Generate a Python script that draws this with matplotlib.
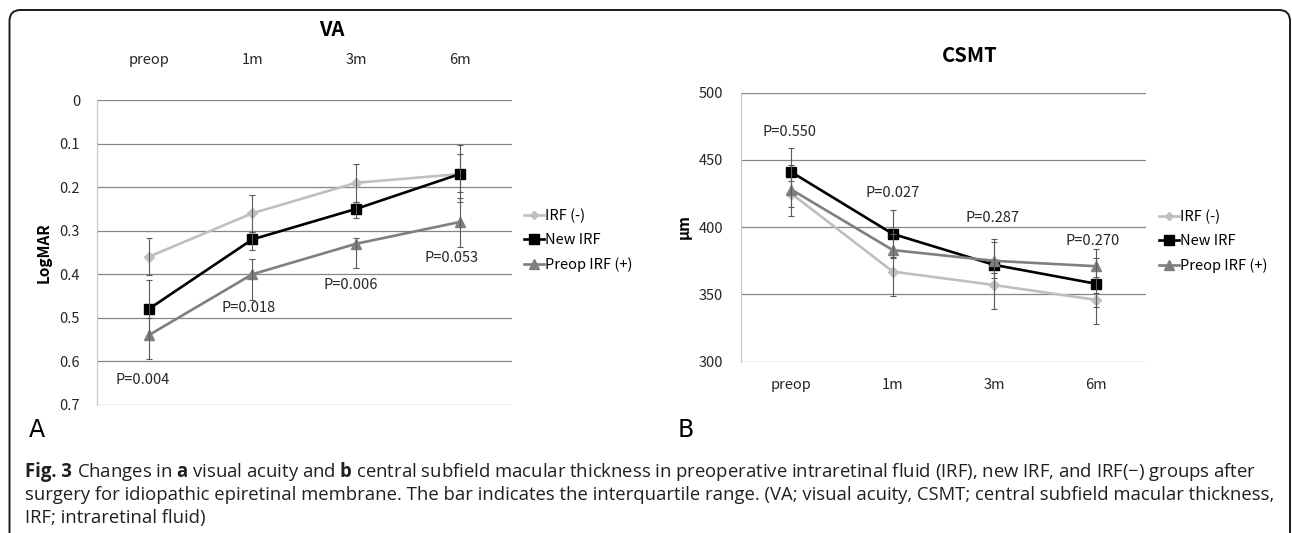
import numpy as np
import matplotlib
matplotlib.use('Agg')
import matplotlib.pyplot as plt
from matplotlib.patches import FancyBboxPatch
from matplotlib.transforms import IdentityTransform

W, H, DPI = 1292, 533, 100

CHART_FONT = ['Noto Sans CJK KR', 'DejaVu Sans']
CAPTION_FONT = 'Open Sans'

# ---- data ----
timepoints = ['preop', '1m', '3m', '6m']
series_names = ['IRF (-)', 'New IRF', 'Preop IRF (+)']

# VA (logMAR), median values
va_irf_neg = [0.36, 0.26, 0.19, 0.17]
va_new_irf = [0.48, 0.32, 0.25, 0.17]
va_preop_irf = [0.54, 0.40, 0.33, 0.28]
# interquartile range: lower / upper
va_irf_neg_lo = [0.316, 0.218, 0.146, 0.125]
va_irf_neg_hi = [0.402, 0.303, 0.234, 0.211]
va_new_irf_lo = [0.413, 0.303, 0.234, 0.104]
va_new_irf_hi = [0.550, 0.345, 0.270, 0.234]
va_preop_irf_lo = [0.500, 0.364, 0.316, 0.224]
va_preop_irf_hi = [0.595, 0.458, 0.385, 0.337]
va_pvalues = ['P=0.004', 'P=0.018', 'P=0.006', 'P=0.053']
va_ticks = [0, 0.1, 0.2, 0.3, 0.4, 0.5, 0.6, 0.7]

# CSMT (um)
csmt_irf_neg = [425, 367, 357, 346]
csmt_new_irf = [441, 395, 372, 358]
csmt_preop_irf = [428, 383, 375, 371]
csmt_irf_neg_lo = [415, 349, 339, 328]
csmt_irf_neg_hi = [434, 379, 366, 351]
csmt_new_irf_lo = [426, 378, 362, 341]
csmt_new_irf_hi = [459, 413, 389, 377]
csmt_preop_irf_lo = [408, 377, 366, 363]
csmt_preop_irf_hi = [446, 395, 391, 384]
csmt_pvalues = ['P=0.550', 'P=0.027', 'P=0.287', 'P=0.270']
csmt_ticks = [300, 350, 400, 450, 500]

caption_head = 'Fig. 3'
caption_lines = [
    r'Changes in $\mathbf{a}$ visual acuity and $\mathbf{b}$ central subfield '
    r'macular thickness in preoperative intraretinal fluid (IRF), new IRF, and IRF(−) groups after',
    'surgery for idiopathic epiretinal membrane. The bar indicates the interquartile range. '
    '(VA; visual acuity, CSMT; central subfield macular thickness,',
    'IRF; intraretinal fluid)',
]

# ---- style ----
COLORS = ['#BFBFBF', '#000000', '#7F7F7F']
MARKERS = ['D', 's', '^']
MSIZES = [5.0, 7.5, 7.5]
ERR_COLOR = '#5A5A5A'
GRID_COLOR = '#868686'
FS = 10.5

plt.rcParams['font.family'] = CHART_FONT
plt.rcParams['mathtext.fontset'] = 'custom'
plt.rcParams['mathtext.rm'] = CAPTION_FONT
plt.rcParams['mathtext.bf'] = CAPTION_FONT + ':bold'


def px_axes(fig, x0, y0, x1, y1):
    return fig.add_axes([x0 / W, 1 - y1 / H, (x1 - x0) / W, (y1 - y0) / H])


def fig_text(fig, x, y, s, **kw):
    return fig.text(x / W, 1 - y / H, s, **kw)


def draw_series(ax, values, lows, highs):
    x = np.arange(len(timepoints))
    for i, (vals, lo, hi) in enumerate(zip(values, lows, highs)):
        vals = np.array(vals)
        ax.plot(x, vals, color=COLORS[i], marker=MARKERS[i], ms=MSIZES[i],
                lw=1.9, label=series_names[i], zorder=3 + i)
        yerr = [vals - np.array(lo), np.array(hi) - vals]
        ax.errorbar(x, vals, yerr=yerr, fmt='none', ecolor=ERR_COLOR,
                    elinewidth=0.8, capsize=2.2, capthick=0.8, zorder=3 + i)


def style_axes(ax, ticks):
    ax.set_xlim(-0.5, len(timepoints) - 0.5)
    ax.set_xticks(np.arange(len(timepoints)))
    ax.set_xticklabels(timepoints)
    ax.set_yticks(ticks)
    ax.set_yticklabels(['%g' % t for t in ticks])
    ax.yaxis.grid(True, color=GRID_COLOR, lw=0.9)
    ax.set_axisbelow(True)
    for s in ['top', 'right', 'bottom']:
        ax.spines[s].set_visible(False)
    ax.spines['left'].set_color('#C8C8C8')
    ax.spines['left'].set_linewidth(0.9)
    ax.tick_params(length=0, labelsize=FS, colors='#262626')


def add_legend(ax, x, y):
    ax.legend(loc='center left', bbox_to_anchor=(x / W, 1 - y / H),
              bbox_transform=ax.figure.transFigure, frameon=False, fontsize=FS,
              handlelength=1.4, handletextpad=0.05, labelspacing=0.7,
              borderpad=0, borderaxespad=0, markerscale=0.9)


fig = plt.figure(figsize=(W / DPI, H / DPI), dpi=DPI)

# ---- panel A: VA ----
ax1 = px_axes(fig, 96.7, 100, 511.6, 405)
draw_series(ax1, [va_irf_neg, va_new_irf, va_preop_irf],
            [va_irf_neg_lo, va_new_irf_lo, va_preop_irf_lo],
            [va_irf_neg_hi, va_new_irf_hi, va_preop_irf_hi])
style_axes(ax1, va_ticks)
ax1.set_ylim(0.7, 0)
ax1.xaxis.tick_top()
ax1.tick_params(axis='x', pad=24)
ax1.tick_params(axis='y', pad=12)
for xi, (txt, yv) in enumerate(zip(va_pvalues, [0.643, 0.477, 0.425, 0.363])):
    ax1.text(xi + [-0.06, -0.04, -0.05, -0.08][xi], yv, txt, ha='center', va='center',
             fontsize=FS, color='#262626', zorder=10)
add_legend(ax1, 524, 240)
fig_text(fig, 332, 30, 'VA', fontsize=14.5, fontweight='bold', ha='center', va='center')
fig_text(fig, 43.6, 253, 'LogMAR', fontsize=11, fontweight='bold', rotation=90,
         ha='center', va='center')
fig_text(fig, 37, 430, 'A', fontsize=17, ha='center', va='center', family='DejaVu Sans')

# ---- panel B: CSMT ----
ax2 = px_axes(fig, 740.6, 92.7, 1146.4, 361.7)
draw_series(ax2, [csmt_irf_neg, csmt_new_irf, csmt_preop_irf],
            [csmt_irf_neg_lo, csmt_new_irf_lo, csmt_preop_irf_lo],
            [csmt_irf_neg_hi, csmt_new_irf_hi, csmt_preop_irf_hi])
style_axes(ax2, csmt_ticks)
ax2.set_ylim(300, 500)
ax2.tick_params(axis='x', pad=12)
ax2.tick_params(axis='y', pad=12.5)
for xi, (txt, yv) in enumerate(zip(csmt_pvalues, [471, 425.7, 406.6, 390])):
    ax2.text(xi + [-0.02, 0.0, -0.02, -0.03][xi], yv, txt, ha='center', va='center',
             fontsize=FS, color='#262626', zorder=10)
add_legend(ax2, 1159, 241)
fig_text(fig, 969.7, 55, 'CSMT', fontsize=14.5, fontweight='bold', ha='center', va='center')
fig_text(fig, 683.7, 227, 'μm', fontsize=11, fontweight='bold', rotation=90,
         ha='center', va='center')
fig_text(fig, 685.7, 430, 'B', fontsize=17, ha='center', va='center', family='DejaVu Sans')

# ---- outer rounded frame (runs off the bottom edge) ----
frame = FancyBboxPatch((9.5, -30), 1280.5, 523 + 30,
                       boxstyle='round,pad=0,rounding_size=11',
                       transform=IdentityTransform(), fill=False,
                       ec='#1A1A1A', lw=1.4)
fig.add_artist(frame)

# ---- caption ----
renderer = fig.canvas.get_renderer()
cap_x, cap_right = 25, 1262
cap_ys = [471.7, 495, 518]


def caption_width(size):
    head = fig_text(fig, cap_x, cap_ys[0], caption_head, fontsize=size,
                    family=CAPTION_FONT, fontweight='bold', va='center')
    body = fig_text(fig, cap_x, cap_ys[0], caption_lines[0], fontsize=size,
                    family=CAPTION_FONT, va='center')
    wh = head.get_window_extent(renderer).width
    wb = body.get_window_extent(renderer).width
    head.remove()
    body.remove()
    return wh, wb


size = 11.5
wh, wb = caption_width(size)
space = 0.26 * size * DPI / 72
size = size * (cap_right - cap_x) / (wh + space + wb)
wh, wb = caption_width(size)
space = 0.26 * size * DPI / 72

fig_text(fig, cap_x, cap_ys[0], caption_head, fontsize=size, family=CAPTION_FONT,
         fontweight='bold', va='center', ha='left', color='#231F20')
fig_text(fig, cap_x + wh + space, cap_ys[0], caption_lines[0], fontsize=size,
         family=CAPTION_FONT, va='center', ha='left', color='#231F20')
for line, yy in zip(caption_lines[1:], cap_ys[1:]):
    fig_text(fig, cap_x, yy, line, fontsize=size, family=CAPTION_FONT,
             va='center', ha='left', color='#231F20')

fig.savefig('out.png', dpi=DPI)
